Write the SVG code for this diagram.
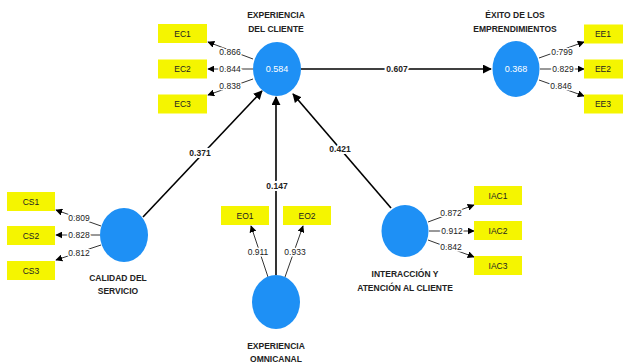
<svg xmlns="http://www.w3.org/2000/svg" width="623" height="364" viewBox="0 0 623 364">
<defs>
<marker id="ah" viewBox="0 0 10 10" refX="9" refY="5" markerWidth="7" markerHeight="7" orient="auto" markerUnits="userSpaceOnUse"><path d="M0,0 L10,5 L0,10 z" fill="#000"/></marker>
<marker id="ahb" viewBox="0 0 10 10" refX="9" refY="5" markerWidth="9" markerHeight="9" orient="auto" markerUnits="userSpaceOnUse"><path d="M0,0 L10,5 L0,10 z" fill="#000"/></marker>
</defs>
<style>
.lv{fill:#1E90F5;}
.ind{fill:#F5F500;}
.t{font-family:"Liberation Sans",Arial,sans-serif;font-size:8.5px;fill:#222;text-anchor:middle;}
.tt{font-family:"Liberation Sans",Arial,sans-serif;font-size:8.5px;font-weight:bold;fill:#222;text-anchor:middle;}
.cv{font-family:"Liberation Sans",Arial,sans-serif;font-size:9px;fill:#fff;text-anchor:middle;}
.ld{stroke:#333;stroke-width:1;fill:none;marker-end:url(#ah);}
.pt{stroke:#000;stroke-width:1.6;fill:none;marker-end:url(#ahb);}
.lb{font-family:"Liberation Sans",Arial,sans-serif;font-size:8.5px;fill:#222;text-anchor:middle;paint-order:stroke;stroke:#fff;stroke-width:3px;}
.pb{font-family:"Liberation Sans",Arial,sans-serif;font-size:8.5px;font-weight:bold;fill:#222;text-anchor:middle;paint-order:stroke;stroke:#fff;stroke-width:4px;}
</style>
<rect width="623" height="364" fill="#fff"/>
<g id="connectors">
<line class="pt" x1="301" y1="69" x2="491" y2="69"/>
<line class="pt" x1="143" y1="217" x2="262" y2="91"/>
<line class="pt" x1="276" y1="275" x2="276" y2="97"/>
<line class="pt" x1="391" y1="208" x2="293" y2="94"/>
<text class="pb" x="397" y="72">0.607</text>
<text class="pb" x="200" y="156">0.371</text>
<text class="pb" x="277" y="189">0.147</text>
<text class="pb" x="340" y="152">0.421</text>
<line class="ld" x1="253" y1="59" x2="208" y2="42"/>
<line class="ld" x1="253" y1="69" x2="208" y2="69"/>
<line class="ld" x1="253" y1="79" x2="208" y2="95"/>
<text class="lb" x="230" y="55">0.866</text>
<text class="lb" x="230" y="72">0.844</text>
<text class="lb" x="230" y="89">0.838</text>
<line class="ld" x1="539" y1="58" x2="584" y2="42"/>
<line class="ld" x1="540" y1="69" x2="584" y2="69"/>
<line class="ld" x1="539" y1="80" x2="584" y2="96"/>
<text class="lb" x="562" y="55">0.799</text>
<text class="lb" x="563" y="72">0.829</text>
<text class="lb" x="561" y="89">0.846</text>
<line class="ld" x1="101" y1="226" x2="56" y2="210"/>
<line class="ld" x1="100" y1="235" x2="56" y2="235"/>
<line class="ld" x1="101" y1="245" x2="56" y2="260"/>
<text class="lb" x="79" y="221">0.809</text>
<text class="lb" x="79" y="238">0.828</text>
<text class="lb" x="79" y="256">0.812</text>
<line class="ld" x1="268" y1="277" x2="251" y2="226"/>
<line class="ld" x1="285" y1="277" x2="303" y2="226"/>
<text class="lb" x="258" y="255">0.911</text>
<text class="lb" x="295" y="255">0.933</text>
<line class="ld" x1="428" y1="222" x2="474" y2="205"/>
<line class="ld" x1="429" y1="231" x2="474" y2="231"/>
<line class="ld" x1="428" y1="240" x2="474" y2="257"/>
<text class="lb" x="451" y="216">0.872</text>
<text class="lb" x="452" y="234">0.912</text>
<text class="lb" x="451" y="250">0.842</text>
</g>
<g id="ec">
<ellipse class="lv" cx="277" cy="69" rx="24" ry="27"/>
<text class="cv" x="277" y="72">0.584</text>
<text class="tt" x="276" y="18">EXPERIENCIA</text>
<text class="tt" x="276" y="32">DEL CLIENTE</text>
</g>
<g id="ec1"><rect class="ind" x="158" y="24" width="49" height="19"/><text class="t" x="182.5" y="36.5">EC1</text></g>
<g id="ec2"><rect class="ind" x="158" y="59.5" width="49" height="19"/><text class="t" x="182.5" y="72">EC2</text></g>
<g id="ec3"><rect class="ind" x="158" y="94.5" width="49" height="19"/><text class="t" x="182.5" y="107">EC3</text></g>
<g id="ee">
<ellipse class="lv" cx="516" cy="69" rx="23.5" ry="28"/>
<text class="cv" x="516" y="72">0.368</text>
<text class="tt" x="515" y="18">ÉXITO DE LOS</text>
<text class="tt" x="515" y="32">EMPRENDIMIENTOS</text>
</g>
<g id="ee1"><rect class="ind" x="584" y="24.5" width="39" height="19"/><text class="t" x="603" y="37">EE1</text></g>
<g id="ee2"><rect class="ind" x="584" y="59.5" width="39" height="19"/><text class="t" x="603" y="72">EE2</text></g>
<g id="ee3"><rect class="ind" x="584" y="94.5" width="39" height="19"/><text class="t" x="603" y="107">EE3</text></g>
<g id="cs">
<ellipse class="lv" cx="124" cy="235" rx="24" ry="27"/>
<text class="tt" x="118" y="281">CALIDAD DEL</text>
<text class="tt" x="118" y="294">SERVICIO</text>
</g>
<g id="cs1"><rect class="ind" x="7" y="192" width="48" height="19"/><text class="t" x="31" y="204.5">CS1</text></g>
<g id="cs2"><rect class="ind" x="7" y="226" width="48" height="19"/><text class="t" x="31" y="238.5">CS2</text></g>
<g id="cs3"><rect class="ind" x="7" y="261" width="48" height="19"/><text class="t" x="31" y="273.5">CS3</text></g>
<g id="eo">
<ellipse class="lv" cx="276" cy="302" rx="24" ry="27"/>
<text class="tt" x="276" y="349">EXPERIENCIA</text>
<text class="tt" x="276" y="361.5">OMNICANAL</text>
</g>
<g id="eo1"><rect class="ind" x="221" y="206" width="48" height="19"/><text class="t" x="245" y="218.5">EO1</text></g>
<g id="eo2"><rect class="ind" x="283" y="206" width="48" height="19"/><text class="t" x="307" y="218.5">EO2</text></g>
<g id="iac">
<ellipse class="lv" cx="405" cy="231" rx="23.5" ry="26"/>
<text class="tt" x="405" y="277">INTERACCIÓN Y</text>
<text class="tt" x="405" y="291">ATENCIÓN AL CLIENTE</text>
</g>
<g id="iac1"><rect class="ind" x="474" y="186" width="48" height="19"/><text class="t" x="498" y="198.5">IAC1</text></g>
<g id="iac2"><rect class="ind" x="474" y="221" width="48" height="19"/><text class="t" x="498" y="233.5">IAC2</text></g>
<g id="iac3"><rect class="ind" x="474" y="256" width="48" height="19"/><text class="t" x="498" y="268.5">IAC3</text></g>
</svg>
